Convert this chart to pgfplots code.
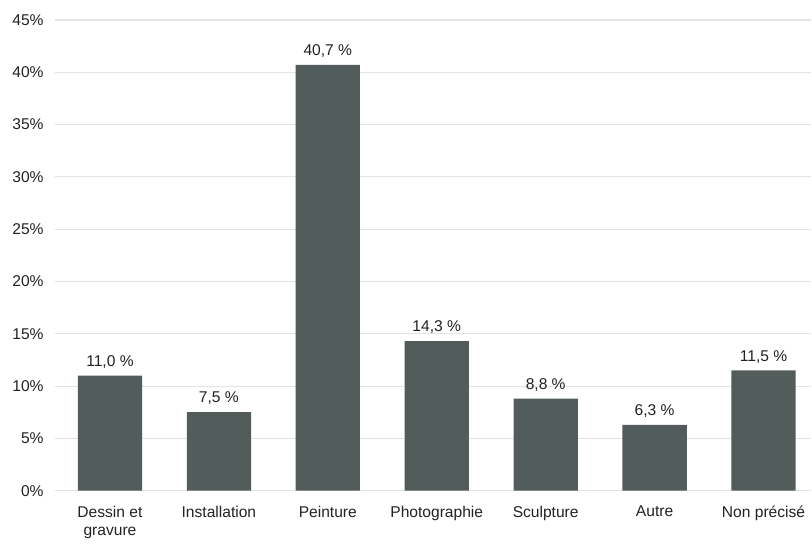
\documentclass[border=0pt]{standalone}
\usepackage{pgfplots}
\pgfplotsset{compat=1.18}
\usepackage{fontspec}
\setmainfont{Liberation Sans}
\definecolor{barfill}{HTML}{525C5B}
\definecolor{gridgray}{HTML}{E3E3E3}
\definecolor{txt}{HTML}{222222}
\begin{document}
\begin{tikzpicture}[x=0.75pt,y=0.75pt]
\pgfkeys{/pgf/number format/.cd,use comma,1000 sep={}}
\begin{axis}[
  scale only axis,
  width=567.75pt, height=353.25pt,
  at={(0,0)}, anchor=south west,
  ymin=0, ymax=45,
  ytick={0,5,...,45},
  xmin=-0.505, xmax=6.44,
  xtick={0,...,6},
  xticklabels={{Dessin et\\gravure},Installation,Peinture,Photographie,Sculpture,Autre,Non précisé},
  xticklabel style={align=center, font=\fontsize{11.7pt}{14pt}\selectfont, text=txt, yshift=-3.5pt},
  yticklabel={\pgfmathprintnumber{\tick}\%},
  yticklabel style={font=\fontsize{11.7pt}{13pt}\selectfont, text=txt, xshift=-5pt},
  /pgf/number format/assume math mode=true,
  axis line style={draw=none},
  major tick style={draw=none},
  ymajorgrids,
  grid style={gridgray, line width=0.8pt},
  ybar, bar width=0.59,
  nodes near coords={\pgfmathprintnumber[fixed,fixed zerofill,precision=1,use comma]{\pgfplotspointmeta}~\%},
  nodes near coords style={font=\fontsize{11.7pt}{13pt}\selectfont, text=txt, yshift=2pt},
]
\addplot[fill=barfill, draw=none] coordinates {
  (0,11.0) (1,7.5) (2,40.7) (3,14.3) (4,8.8) (5,6.3) (6,11.5)
};
\end{axis}
\useasboundingbox (-55,-48) rectangle (757,491);
\end{tikzpicture}
\end{document}
